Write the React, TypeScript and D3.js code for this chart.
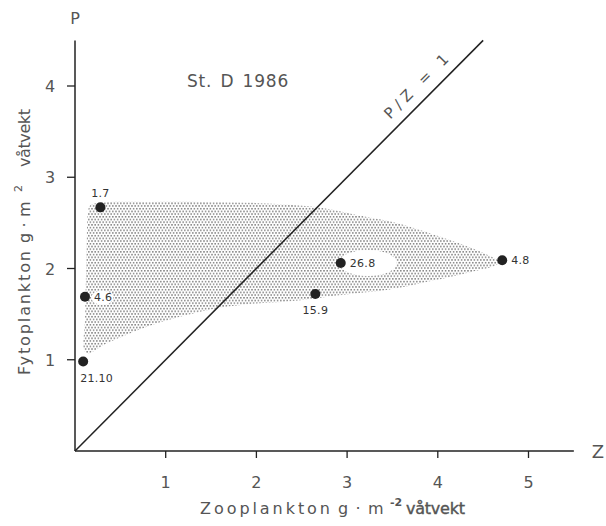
import React from "react";
import * as d3 from "d3";

// Observations: zooplankton (Z) and phytoplankton (P) biomass, g m^-2 wet weight
const sampleDates = ["1.7", "4.6", "21.10", "26.8", "15.9", "4.8"];
const zooValues = [0.28, 0.11, 0.09, 2.93, 2.65, 4.71];
const phytoValues = [2.67, 1.69, 0.98, 2.06, 1.72, 2.09];
const labelSide = ["above", "right", "below", "right", "below", "right"];

// Outline of the shaded envelope (Z, P)
const envelopeZ = [
  0.165, 0.28, 0.83, 1.38, 1.93, 2.48, 2.81, 3.14, 3.58, 4.02, 4.36, 4.63, 4.69,
  4.63, 4.36, 3.91, 3.47, 3.03, 2.7, 2.37, 1.93, 1.54, 1.27, 0.94, 0.61, 0.33,
  0.14, 0.1, 0.11, 0.12, 0.13, 0.14,
];
const envelopeP = [
  2.69, 2.72, 2.73, 2.73, 2.72, 2.69, 2.65, 2.58, 2.49, 2.35, 2.23, 2.11, 2.07,
  2.03, 1.96, 1.86, 1.77, 1.72, 1.68, 1.64, 1.61, 1.56, 1.5, 1.41, 1.29, 1.17,
  1.07, 1.11, 1.43, 1.87, 2.31, 2.58,
];

const xTicks = [1, 2, 3, 4, 5];
const yTicks = [1, 2, 3, 4];
const ratioLineEnd = 4.5;
const ratioLabelAt = 3.88;

const W = 606;
const H = 526;
const ink = "#222";
const grey = "#555";
const font = "DejaVu Sans, Verdana, sans-serif";

export default function App() {
  const x = d3.scaleLinear().domain([0, 5]).range([75, 528.5]);
  const y = d3.scaleLinear().domain([0, 4]).range([451, 86]);

  const envelope = d3
    .line<[number, number]>()
    .x((d) => x(d[0]))
    .y((d) => y(d[1]))
    .curve(d3.curveCatmullRomClosed.alpha(0.5))(
    envelopeZ.map((z, i) => [z, envelopeP[i]] as [number, number])
  );

  const x0 = x(0);
  const y0 = y(0);
  const ratioAngle =
    (Math.atan2(y(0) - y(ratioLineEnd), x(ratioLineEnd) - x(0)) * 180) / Math.PI;

  return (
    <svg
      width={W}
      height={H}
      style={{ position: "absolute", left: 0, top: 0, background: "#fff" }}
      fontFamily={font}
    >
      <defs>
        <pattern id="stipple" width={3.2} height={5.4} patternUnits="userSpaceOnUse">
          <circle cx={0.8} cy={0.8} r={0.75} fill="#555" />
          <circle cx={2.4} cy={3.5} r={0.75} fill="#555" />
        </pattern>
        <mask id="envMask">
          <rect x={0} y={0} width={W} height={H} fill="#fff" />
          <ellipse cx={x(3.23)} cy={y(2.06)} rx={29} ry={13} fill="#000" />
          <ellipse cx={x(0.3)} cy={y(1.68)} rx={11} ry={7} fill="#000" />
        </mask>
      </defs>

      {/* shaded envelope */}
      <path d={envelope ?? ""} fill="url(#stipple)" mask="url(#envMask)" />

      {/* axes */}
      <line x1={x0} y1={y0} x2={x0} y2={y(4.5)} stroke={ink} strokeWidth={1.5} />
      <line x1={x0} y1={y0} x2={x(5.5)} y2={y0} stroke={ink} strokeWidth={1.5} />
      {xTicks.map((t) => (
        <g key={"x" + t}>
          <line x1={x(t)} x2={x(t)} y1={y0} y2={y0 + 7} stroke={ink} strokeWidth={1.3} />
          <text x={x(t)} y={y0 + 37} textAnchor="middle" fontSize={16} fill={grey}>
            {t}
          </text>
        </g>
      ))}
      {yTicks.map((t) => (
        <g key={"y" + t}>
          <line x1={x0 - 8} x2={x0} y1={y(t)} y2={y(t)} stroke={ink} strokeWidth={1.3} />
          <text x={x0 - 25} y={y(t) + 6} textAnchor="middle" fontSize={16} fill={grey}>
            {t}
          </text>
        </g>
      ))}
      <text x={x0} y={24} textAnchor="middle" fontSize={16} fill={grey}>
        P
      </text>
      <text x={598} y={y0 + 7} textAnchor="middle" fontSize={18} fill={grey}>
        Z
      </text>

      {/* axis titles */}
      <g transform="translate(200,514)" fill={grey} fontSize={16}>
        <text x={0} textLength={130}>Zooplankton</text>
        <text x={138}>g</text>
        <text x={158} textAnchor="middle">·</text>
        <text x={168}>m</text>
        <text x={190} y={-8} fontSize={11} fontWeight="bold">-2</text>
        <text x={206} textLength={59} stroke={grey} strokeWidth={0.4}>våtvekt</text>
      </g>
      <g transform="translate(30,375) rotate(-90)" fill={grey} fontSize={16}>
        <text x={0} textLength={124}>Fytoplankton</text>
        <text x={132}>g</text>
        <text x={150} textAnchor="middle">·</text>
        <text x={158}>m</text>
        <text x={183} y={-8} fontSize={11}>2</text>
        <text x={208} textLength={58}>våtvekt</text>
      </g>

      <text
        x={238}
        y={87}
        textAnchor="middle"
        fontSize={17}
        letterSpacing={0.8}
        wordSpacing={2}
        fill={grey}
      >
        St. D 1986
      </text>

      {/* P/Z = 1 reference line */}
      <line
        x1={x(0)}
        y1={y(0)}
        x2={x(ratioLineEnd)}
        y2={y(ratioLineEnd)}
        stroke={ink}
        strokeWidth={1.5}
      />
      <text
        transform={`translate(${x(ratioLabelAt)},${y(ratioLabelAt)}) rotate(${-ratioAngle})`}
        x={-42}
        y={-10}
        fontSize={15}
        textLength={84}
        fill={grey}
      >
        P/Z = 1
      </text>

      {/* observations */}
      {sampleDates.map((lab, i) => {
        const cx = x(zooValues[i]);
        const cy = y(phytoValues[i]);
        const side = labelSide[i];
        const lx = side === "right" ? cx + 9 : side === "below" && cx < 100 ? cx - 3 : cx;
        const ly = side === "above" ? cy - 10 : side === "below" ? cy + 20 : cy + 4;
        const anchor =
          side === "right" || (side === "below" && cx < 100) ? "start" : "middle";
        return (
          <g key={lab}>
            <circle cx={cx} cy={cy} r={5} fill={ink} />
            <text x={lx} y={ly} textAnchor={anchor} fontSize={11} letterSpacing={0.3} fill="#333">
              {lab}
            </text>
          </g>
        );
      })}
    </svg>
  );
}
